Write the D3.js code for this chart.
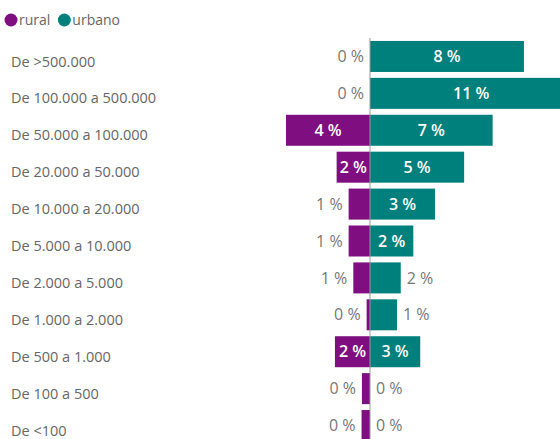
<!DOCTYPE html>
<html>
<head>
<meta charset="utf-8">
<script src="https://cdn.jsdelivr.net/npm/d3@7"></script>
<style>
  body { margin: 0; background: #fff; }
  text { font-family: "Segoe UI", "Open Sans", sans-serif; }
</style>
</head>
<body>
<div id="chart"></div>
<script>
// categories top to bottom
const categories = [
  "De >500.000", "De 100.000 a 500.000", "De 50.000 a 100.000", "De 20.000 a 50.000",
  "De 10.000 a 20.000", "De 5.000 a 10.000", "De 2.000 a 5.000", "De 1.000 a 2.000",
  "De 500 a 1.000", "De 100 a 500", "De <100"
];
// shares in %
const rural =  [0, 0, 4.48, 1.78, 1.14, 1.14, 0.89, 0.18, 1.87, 0.43, 0.45];
const urbano = [8.21, 10.8, 6.54, 5.02, 3.47, 2.31, 1.64, 1.44, 2.68, 0, 0];
const seriesNames = ["rural", "urbano"];
const colors = {rural: "#7f0f80", urbano: "#00807c"};

const width = 560, height = 439;
const cx = 370;

const svg = d3.select("#chart").append("svg")
    .attr("width", width)
    .attr("height", height);

const x = d3.scaleLinear()
    .domain([-12, 12])
    .range([cx - 225, cx + 225]);

const y = d3.scaleBand()
    .domain(categories)
    .range([38, 444])
    .paddingInner(0.16)
    .paddingOuter(0.08);

// legend
const legend = svg.append("g").attr("class", "legend");
let lx = 11;
seriesNames.forEach(name => {
    legend.append("circle")
        .attr("cx", lx)
        .attr("cy", 20)
        .attr("r", 6.5)
        .attr("fill", colors[name]);
    const t = legend.append("text")
        .attr("x", lx + 8)
        .attr("y", 25)
        .attr("font-size", 14)
        .attr("fill", "#666")
        .text(name);
    lx += 8 + t.node().getComputedTextLength() + 14;
});

// category labels
svg.append("g").selectAll("text")
    .data(categories)
    .enter()
    .append("text")
    .attr("x", 11)
    .attr("y", d => y(d) + y.bandwidth() / 2 + 5)
    .attr("dy", "0.35em")
    .attr("font-size", 14.5)
    .attr("fill", "#666")
    .text(d => d);

const rows = [];
categories.forEach((c, i) => {
    rows.push({cat: c, series: "rural", v: rural[i]});
    rows.push({cat: c, series: "urbano", v: urbano[i]});
});

const bars = svg.append("g");
bars.selectAll("rect")
    .data(rows)
    .enter()
    .append("rect")
    .attr("x", d => d.series == "rural" ? x(-d.v) : x(0))
    .attr("y", d => y(d.cat))
    .attr("width", d => x(d.v) - x(0))
    .attr("height", y.bandwidth())
    .attr("fill", d => colors[d.series]);

// center axis line
svg.append("line")
    .attr("x1", x(0)).attr("x2", x(0))
    .attr("y1", 38).attr("y2", height)
    .attr("stroke", "#999")
    .attr("stroke-width", 1);

// data labels: inside the bar if it fits, otherwise outside in gray
const labels = svg.append("g");
rows.forEach(d => {
    const bw = x(d.v) - x(0);
    const t = labels.append("text")
        .attr("y", y(d.cat) + y.bandwidth() / 2)
        .attr("dy", "0.35em")
        .attr("font-size", 16)
        .text(Math.round(d.v) + " %");
    const tw = t.node().getComputedTextLength();
    const sign = d.series == "rural" ? -1 : 1;
    if (bw >= tw + 6) {
        t.attr("x", x(0) + sign * bw / 2)
            .attr("text-anchor", "middle")
            .attr("fill", "#fff")
            .attr("font-weight", 600);
    } else {
        t.attr("x", x(0) + sign * (bw + 6))
            .attr("text-anchor", sign < 0 ? "end" : "start")
            .attr("fill", "#777");
    }
});
</script>
</body>
</html>
